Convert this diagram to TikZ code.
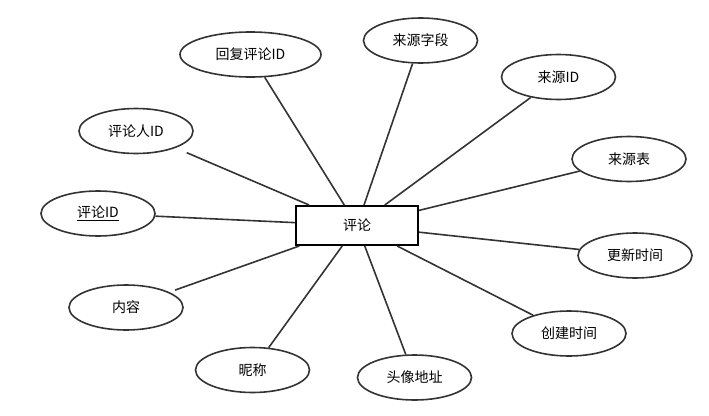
\documentclass[tikz,border=0pt]{standalone}
\usepackage{fontspec}
\newfontfamily\cjk{Noto Sans CJK SC}
\usetikzlibrary{shapes.geometric}

\begin{document}
\begin{tikzpicture}[x=1pt,y=-1pt,
    attr/.style={ellipse,draw=black!80,line width=1.6pt,inner sep=0pt,
      minimum width=114,minimum height=45,font=\cjk\fontsize{14}{16}\selectfont},
    entity/.style={rectangle,draw=black,line width=2pt,inner sep=0pt,
      minimum width=122,minimum height=39,font=\cjk\fontsize{14}{16}\selectfont},
    link/.style={draw=black!80,line width=1.6pt}]
  \useasboundingbox (0,0) rectangle (709,415);

  \node [entity] (pl) at (357,225.5) {评论};

  \node [attr,minimum width=141] (hfid) at (250.5,54.5) {回复评论ID};
  \node [attr] (plrid) at (136,131) {评论人ID};
  \node [attr] (plid) at (98,213.5) {\underline{评论ID}};
  \node [attr] (nr) at (126,307.5) {内容};
  \node [attr] (nc) at (252.5,370) {昵称};
  \node [attr] (txdz) at (414.5,377.5) {头像地址};
  \node [attr] (cjsj) at (569,333.5) {创建时间};
  \node [attr] (gxsj) at (635,255.5) {更新时间};
  \node [attr] (lyb) at (629,159) {来源表};
  \node [attr] (lyid) at (558.5,77) {来源ID};
  \node [attr] (lyzd) at (420.5,40.5) {来源字段};

  \draw [link] (hfid) -- (pl);
  \draw [link,shorten <=12pt] (plrid) -- (pl);
  \draw [link] (plid) -- (pl);
  \draw [link,shorten <=6pt] (nr) -- (pl);
  \draw [link] (nc) -- (pl);
  \draw [link] (txdz) -- (pl);
  \draw [link] (cjsj) -- (pl);
  \draw [link] (gxsj) -- (pl);
  \draw [link] (lyb) -- (pl);
  \draw [link] (lyid) -- (pl);
  \draw [link] (lyzd) -- (pl);
\end{tikzpicture}
\end{document}
